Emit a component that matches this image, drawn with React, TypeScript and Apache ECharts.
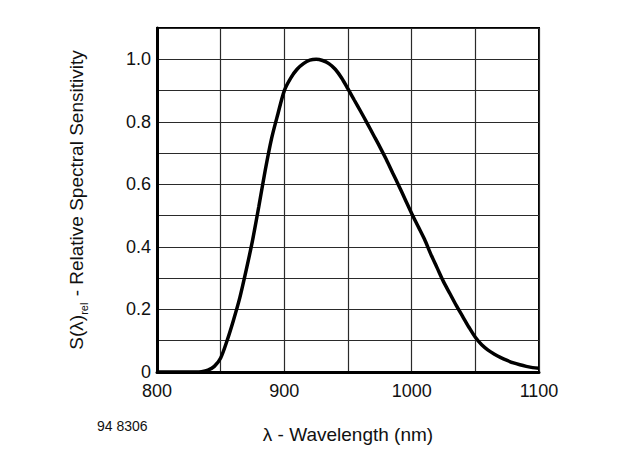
import React, { useEffect, useRef } from "react";
import * as echarts from "echarts";

const wavelengths = [
  800, 810, 820, 830, 835, 840, 845, 850, 855, 860, 865, 870, 875, 880, 885, 890, 895, 900,
  905, 910, 915, 920, 925, 930, 935, 940, 945, 950, 955, 960, 965, 970, 975, 980, 985, 990,
  995, 1000, 1005, 1010, 1015, 1020, 1025, 1030, 1035, 1040, 1045, 1050, 1055, 1060, 1065,
  1070, 1075, 1080, 1085, 1090, 1095, 1100,
];
const sensitivity = [
  0, 0, 0, 0, 0.001, 0.006, 0.018, 0.045, 0.1, 0.165, 0.237, 0.325, 0.42, 0.53, 0.645, 0.747, 0.826, 0.9,
  0.94, 0.968, 0.986, 0.997, 1.0, 0.996, 0.986, 0.968, 0.94, 0.905, 0.869, 0.833, 0.796, 0.758, 0.72, 0.68, 0.637, 0.595,
  0.551, 0.507, 0.466, 0.425, 0.377, 0.333, 0.289, 0.251, 0.213, 0.178, 0.143, 0.111, 0.087, 0.07, 0.057,
  0.046, 0.037, 0.029, 0.023, 0.018, 0.014, 0.012,
];
const xTickLabels = ["800", "900", "1000", "1100"];
const yTickLabels = ["0", "0.2", "0.4", "0.6", "0.8", "1.0"];
const xAxisName = "λ - Wavelength (nm)";
const yAxisNameMain = "S(λ)";
const yAxisNameSub = "rel";
const yAxisNameRest = " - Relative Spectral Sensitivity";
const figureId = "94 8306";

const FONT = "'Liberation Sans', Arial, Helvetica, sans-serif";

export default function App() {
  const ref = useRef<HTMLDivElement>(null);
  useEffect(() => {
    document.body.style.margin = "0";
    if (!ref.current) return;
    const chart = echarts.init(ref.current, undefined, { renderer: "svg" });
    const data = wavelengths.map((w, i) => [w, sensitivity[i]]);
    chart.setOption({
      animation: false,
      backgroundColor: "#ffffff",
      textStyle: { fontFamily: FONT },
      grid: {
        left: 157,
        right: 86,
        top: 28,
        bottom: 75,
        show: true,
        borderColor: "#000",
        borderWidth: 2,
        backgroundColor: "transparent",
      },
      xAxis: {
        type: "value",
        min: 800,
        max: 1100,
        interval: 50,
        name: xAxisName,
        nameLocation: "middle",
        nameGap: 53,
        nameTextStyle: { color: "#111", fontSize: 19, fontFamily: FONT },
        axisLine: { show: true, lineStyle: { color: "#000", width: 3 } },
        axisTick: { show: false },
        axisLabel: {
          color: "#111",
          fontSize: 18,
          fontFamily: FONT,
          margin: 10,
          formatter: (v: number) => {
            const k = Math.round((v - 800) / 50);
            return k % 2 === 0 ? xTickLabels[k / 2] : "";
          },
        },
        splitLine: { show: true, lineStyle: { color: "#2a2a2a", width: 1.2 } },
      },
      yAxis: {
        type: "value",
        min: 0,
        max: 1.1,
        interval: 0.1,
        name: `{a|${yAxisNameMain}}{s|${yAxisNameSub}}{a|${yAxisNameRest}}`,
        nameLocation: "middle",
        nameGap: 68,
        nameRotate: 90,
        nameTextStyle: {
          color: "#111",
          fontFamily: FONT,
          rich: {
            a: { fontSize: 19, fontFamily: FONT, color: "#111", lineHeight: 26, verticalAlign: "middle" },
            s: { fontSize: 11, fontFamily: FONT, color: "#111", lineHeight: 26, verticalAlign: "bottom", padding: [0, 1, 0, 0] },
          },
        },
        axisLine: { show: true, lineStyle: { color: "#000", width: 3 } },
        axisTick: { show: false },
        axisLabel: {
          color: "#111",
          fontSize: 18,
          fontFamily: FONT,
          margin: 6,
          formatter: (v: number) => {
            const r = Math.round(v * 10);
            return r % 2 === 0 ? yTickLabels[r / 2] ?? "" : "";
          },
        },
        splitLine: { show: true, lineStyle: { color: "#2a2a2a", width: 1.2 } },
      },
      graphic: [
        {
          type: "text",
          left: 97,
          top: 419,
          style: { text: figureId, fontSize: 14, fontFamily: FONT, fill: "#111" },
        },
      ],
      series: [
        {
          type: "line",
          data,
          smooth: 0.3,
          showSymbol: false,
          lineStyle: { color: "#000", width: 3.5 },
          z: 5,
        },
      ],
    });
    return () => chart.dispose();
  }, []);
  return <div ref={ref} style={{ position: "absolute", left: 0, top: 0, width: 625, height: 449 }} />;
}
